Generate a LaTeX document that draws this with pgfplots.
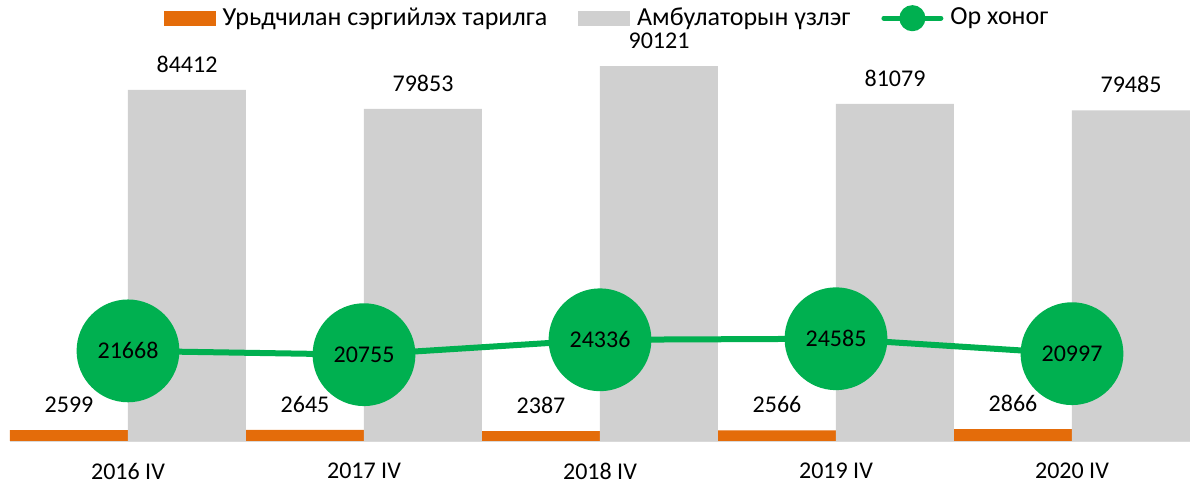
\documentclass[border=0pt,12pt]{standalone}
\usepackage{fontspec}
\setmainfont{Carlito}
\usepackage{pgfplots}
\pgfplotsset{compat=1.18}
\definecolor{xorange}{HTML}{E46C0A}
\definecolor{xgray}{HTML}{D0D0D0}
\definecolor{xgreen}{HTML}{00B050}
\definecolor{xaxis}{HTML}{D9D9D9}
\begin{document}
\fontsize{12}{14.4}\selectfont
\begin{tikzpicture}
\begin{axis}[
  scale only axis, width=590pt, height=187.4pt,
  xmin=-0.5, xmax=4.5, ymin=0, ymax=90121,
  axis x line=bottom, hide y axis,
  x axis line style={-, draw=xaxis, line width=0.75pt},
  xtick={0,1,2,3,4},
  xticklabels={2016 IV,2017 IV,2018 IV,2019 IV,2020 IV},
  major tick length=0pt,
  xticklabel style={yshift=-7pt, font=\fontsize{12}{14.4}\selectfont, text=black},
  clip=false,
  /pgf/number format/assume math mode=true,
  /pgf/number format/1000 sep={},
  legend columns=3,
  legend style={at={(axis description cs:0.5,1)}, anchor=center, yshift=24pt, xshift=4pt,
    draw=none, fill=none, font=\fontsize{13}{15.6}\selectfont,
    /tikz/every odd column/.append style={column sep=1.5pt},
    /tikz/every even column/.append style={column sep=13.5pt}},
]
\addplot[ybar, bar width=59pt, bar shift=-29.5pt, fill=xorange, draw=none,
  nodes near coords,
  every node near coord/.append style={font=\fontsize{12}{14.4}\selectfont, text=black, yshift=4.5pt, xshift=-29.5pt},
  legend image code/.code={\fill[xorange] (0pt,-3.75pt) rectangle (26pt,3.75pt);}]
  coordinates {(0,2599) (1,2645) (2,2387) (3,2566) (4,2866)};
\addlegendentry{Урьдчилан сэргийлэх тарилга}
\addplot[ybar, bar width=59pt, bar shift=29.5pt, fill=xgray, draw=none,
  nodes near coords,
  every node near coord/.append style={font=\fontsize{12}{14.4}\selectfont, text=black, yshift=4.5pt, xshift=29.5pt},
  legend image code/.code={\fill[xgray] (0pt,-3.75pt) rectangle (26pt,3.75pt);}]
  coordinates {(0,84412) (1,79853) (2,90121) (3,81079) (4,79485)};
\addlegendentry{Амбулаторын үзлэг}
\addplot[xgreen, line width=3pt, mark=*, mark size=24.2pt,
  mark options={draw=none, fill=xgreen},
  nodes near coords,
  every node near coord/.append style={anchor=center, font=\fontsize{12}{14.4}\selectfont, text=black},
  legend image code/.code={\draw[xgreen, line width=2.5pt, line cap=round] (0pt,0pt) -- (28.5pt,0pt);
    \fill[xgreen] (14.25pt,0pt) circle (5pt);}]
  coordinates {(0,21668) (1,20755) (2,24336) (3,24585) (4,20997)};
\addlegendentry{Ор хоног}
\end{axis}
\pgfresetboundingbox
\useasboundingbox (-5pt,-22.5pt) rectangle (590.5pt,220.5pt);
\end{tikzpicture}
\end{document}
